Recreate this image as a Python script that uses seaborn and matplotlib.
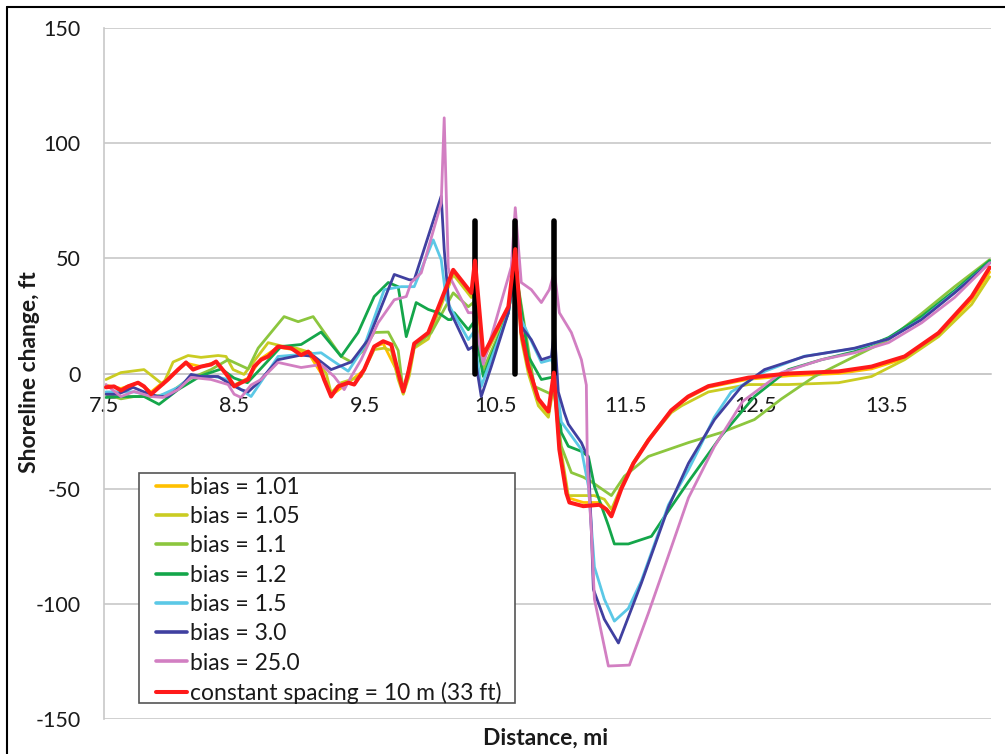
import numpy as np
import pandas as pd
import seaborn as sns
import matplotlib.pyplot as plt
from matplotlib.lines import Line2D
from matplotlib.patches import Rectangle

sns.set_theme(style="white")
plt.rcParams['font.family'] = ['Lato', 'DejaVu Sans']

# ---------------- data (distance in mi, shoreline change in ft) ----------------
dist_101 = [7.515, 7.63, 7.761, 7.861, 7.991, 8.129, 8.244, 8.36, 8.498, 8.605, 8.705, 8.835, 8.935, 9.066, 9.188,
            9.242, 9.373, 9.495, 9.572, 9.641, 9.756, 9.795, 9.879, 9.987, 10.186, 10.317, 10.345, 10.409, 10.601,
            10.654, 10.7, 10.831, 10.908, 10.95, 10.992, 11.061, 11.176, 11.299, 11.391, 11.468, 11.56, 11.675,
            11.85, 11.98, 12.135, 12.442, 12.749, 13.133, 13.386, 13.64, 13.9, 14.154, 14.292]
chg_101 = [-5, -6.5, -4, -8, -2, 4.5, 3, 5, -5, -2, 6.5, 11.5, 10.5, 9, -2, -9.5, -4, 1.5, 11.5, 13, 0, -8.5, 12, 17,
           44, 34, 47, 7, 28.5, 52, 17, -12, -17.5, -1, -32, -54, -56, -56, -61, -49, -38.5, -28.5, -16, -10.5, -6,
           -2.5, -1, 0, 2, 6.5, 16.5, 32, 44]

dist_105 = [7.515, 7.63, 7.807, 7.953, 8.03, 8.145, 8.244, 8.375, 8.436, 8.49, 8.574, 8.759, 8.858, 8.973, 9.089,
            9.204, 9.242, 9.319, 9.472, 9.572, 9.649, 9.703, 9.756, 9.795, 9.841, 9.879, 9.987, 10.178, 10.317,
            10.345, 10.409, 10.601, 10.654, 10.7, 10.754, 10.831, 10.908, 10.95, 10.984, 11.061, 11.161, 11.261,
            11.337, 11.391, 11.468, 11.56, 11.675, 11.85, 11.93, 12.135, 12.442, 12.749, 13.133, 13.386, 13.64,
            13.9, 14.154, 14.292]
chg_105 = [-2.6, 0.4, 1.7, -4.8, 5, 7.8, 7, 7.8, 7.4, 1.7, -0.4, 13.4, 12, 11, 9, 0, -8.4, -4, -1.3, 10.4, 11, 10,
           -2.6, -9, -1, 11, 15, 43, 33, 40, 6, 28, 50, 15, 0, -14, -19, -5, -26, -53, -53, -53, -54.6, -59, -49,
           -39, -29, -17, -14, -8, -4.8, -4.8, -4, -1.3, 6, 16, 30, 42]

dist_110 = [7.515, 7.63, 7.73, 7.861, 7.991, 8.145, 8.321, 8.452, 8.605, 8.682, 8.881, 8.989, 9.104, 9.319, 9.396,
            9.495, 9.572, 9.68, 9.756, 9.795, 9.879, 10.01, 10.178, 10.294, 10.332, 10.409, 10.601, 10.654, 10.8,
            10.931, 10.954, 11.007, 11.084, 11.176, 11.238, 11.391, 11.491, 11.675, 11.982, 12.235, 12.488, 12.696,
            12.949, 13.256, 13.517, 13.77, 14.023, 14.292]
chg_110 = [-9, -11, -10, -10, -9, -2.6, 1.7, 6, 2, 11, 24.7, 22.5, 24.7, 7.4, 5, 10.4, 17.8, 18, 10, -8, 11.7, 17.7,
           35, 29, 30.8, 1.7, 26.4, 46, -5.6, -9, -9, -31.6, -43, -45, -47, -53, -44.6, -36, -30, -25.6, -20, -11,
           -1.3, 7.4, 14.7, 26, 37.7, 49.4]

dist_120 = [7.515, 7.63, 7.807, 7.922, 8.068, 8.244, 8.4, 8.498, 8.6, 8.7, 8.858, 9.012, 9.165, 9.319, 9.449,
            9.572, 9.68, 9.756, 9.818, 9.894, 9.987, 10.063, 10.14, 10.163, 10.186, 10.294, 10.332, 10.409, 10.601,
            10.654, 10.754, 10.854, 10.931, 10.954, 11.007, 11.061, 11.161, 11.215, 11.261, 11.368, 11.414, 11.521,
            11.698, 11.8, 11.982, 12.235, 12.488, 12.749, 13.003, 13.256, 13.517, 13.77, 14.023, 14.292]
chg_120 = [-10.4, -10, -10, -13.4, -7, -1, 2, -2, -4, 2, 11.7, 12.6, 18, 7.4, 17.8, 33.4, 39.5, 37.7, 16, 30.8, 27.8,
           26.4, 23.4, 23.4, 26.4, 19, 22, -1.3, 26.4, 46, 7.4, -2.6, -1.7, 0, -25.6, -31.6, -33.8, -36, -49, -66,
           -74, -74, -70.7, -62, -47, -27, -10, 1.7, 6, 9.5, 15.6, 24.7, 36, 49]

dist_150 = [7.515, 7.73, 7.914, 8.068, 8.168, 8.344, 8.452, 8.551, 8.628, 8.835, 9.165, 9.242, 9.373, 9.495, 9.649,
            9.779, 9.879, 10.025, 10.086, 10.125, 10.163, 10.294, 10.332, 10.393, 10.601, 10.654, 10.7, 10.854,
            10.931, 10.954, 11.007, 11.084, 11.161, 11.215, 11.261, 11.337, 11.414, 11.521, 11.621, 11.829, 11.98,
            12.06, 12.18, 12.31, 12.57, 12.87, 13.256, 13.517, 13.77, 14.023, 14.292]
chg_150 = [-8, -8, -10, -6, -1.3, -1.3, -2.6, -7, -10, 7.4, 9, 6, 1, 11.7, 36.4, 37.7, 37.7, 58, 49.4, 32, 27.8, 14.7,
           17.8, -5.6, 26.4, 46, 23.4, 4.8, 6, 3, -21, -27, -33, -49, -84, -98, -107.5, -102, -90, -57, -42, -33,
           -19, -8, 1, 7.5, 10.8, 15, 23.6, 35.2, 48]

dist_300 = [7.515, 7.607, 7.723, 7.807, 7.914, 7.991, 8.091, 8.168, 8.244, 8.375, 8.475, 8.551, 8.605, 8.682, 8.835,
            9.012, 9.112, 9.242, 9.396, 9.526, 9.726, 9.841, 9.879, 10.086, 10.109, 10.148, 10.294, 10.332, 10.393,
            10.47, 10.601, 10.647, 10.7, 10.777, 10.854, 10.931, 10.954, 10.984, 11.03, 11.061, 11.161, 11.215,
            11.238, 11.253, 11.337, 11.445, 11.621, 11.829, 11.982, 12.182, 12.39, 12.565, 12.872, 13.256, 13.517,
            13.77, 14.023, 14.292]
chg_300 = [-9, -9, -6, -8, -10, -10, -5.6, -0.4, -1.3, -1.3, -4.8, -7, -8, -4, 6, 8, 7.4, 1.7, 5, 14.7, 43, 40.7,
           40.7, 77, 53.8, 27.8, 10.4, 11.7, -10, 3, 26.4, 43.8, 20.4, 14.7, 6, 7.4, 19, -8, -17, -22, -30, -37,
           -69, -93.7, -106.7, -117, -91, -58, -39, -20, -5.6, 1.7, 7.4, 11, 15, 23.4, 35, 48]

dist_250 = [7.515, 7.63, 7.73, 7.861, 7.953, 8.068, 8.168, 8.321, 8.452, 8.498, 8.551, 8.628, 8.705, 8.835, 9.012,
            9.165, 9.265, 9.342, 9.396, 9.472, 9.602, 9.726, 9.818, 9.856, 9.933, 10.086, 10.109, 10.14, 10.163,
            10.294, 10.332, 10.409, 10.624, 10.654, 10.7, 10.777, 10.854, 10.915, 10.954, 10.992, 11.084, 11.161,
            11.199, 11.207, 11.238, 11.261, 11.368, 11.529, 11.675, 11.829, 11.982, 12.182, 12.4, 12.696, 13.003,
            13.256, 13.517, 13.77, 14.023, 14.292]
chg_250 = [-4.8, -10, -7.8, -10, -10.4, -7, -1.7, -2.6, -4.8, -9, -10.4, -5, -2.6, 4.8, 2.6, 3.9, -1.3, -7, -1.3, 6,
           22, 32, 33.4, 39.5, 43.7, 74, 111, 46, 40.7, 26.4, 26.4, 4, 46.4, 72, 39.5, 36.4, 30.8, 36.4, 44, 26.4,
           17.8, 6, -5, -40, -69, -98, -127, -126.6, -104, -79, -54, -31.6, -12, 0.4, 6, 9, 13.4, 22, 33, 48]

dist_const = [7.515, 7.577, 7.63, 7.684, 7.761, 7.807, 7.861, 7.922, 7.991, 8.068, 8.129, 8.183, 8.244, 8.321, 8.36,
              8.452, 8.498, 8.551, 8.605, 8.651, 8.705, 8.759, 8.835, 8.935, 9.012, 9.066, 9.142, 9.188, 9.242, 9.296,
              9.373, 9.419, 9.495, 9.572, 9.641, 9.703, 9.756, 9.795, 9.833, 9.879, 9.987, 10.178, 10.317, 10.345,
              10.409, 10.601, 10.654, 10.7, 10.754, 10.831, 10.908, 10.95, 10.992, 11.046, 11.069, 11.176, 11.299,
              11.353, 11.391, 11.468, 11.56, 11.675, 11.85, 11.98, 12.135, 12.442, 12.749, 13.133, 13.386, 13.64,
              13.9, 14.154, 14.292]
chg_const = [-6, -5.6, -7.4, -5.6, -4, -5.6, -9, -6, -2.6, 1.7, 4.8, 1.7, 3, 3.9, 5.2, -1.3, -5.6, -4, -2.6, 3, 6, 7.4,
             11.7, 11, 8, 9.5, 4.8, -2.6, -10, -5.6, -4, -4.8, 1.7, 11.7, 14, 12.6, 0.4, -7.8, 0.4, 13, 17.7, 45, 35,
             49, 8, 29, 54, 18, 3, -11, -16.5, 0.4, -33, -52, -56, -57.6, -57, -59, -62, -50, -39, -29, -16, -10,
             -5.5, -1.8, 0, 0.9, 3, 7.4, 17.6, 33.4, 46]

groin_x = [10.345, 10.655, 10.95]
groin_bottom = 0
groin_top = 66

labels = ['bias = 1.01', 'bias = 1.05', 'bias = 1.1', 'bias = 1.2', 'bias = 1.5', 'bias = 3.0', 'bias = 25.0',
          'constant spacing = 10 m (33 ft)']
colors = ['#FFC000', '#CACC22', '#8CC63E', '#14A64A', '#5BC8E6', '#4040A0', '#D27FC2', '#FF1A1A']
xticks = [7.5, 8.5, 9.5, 10.5, 11.5, 12.5, 13.5]
yticks = [-150, -100, -50, 0, 50, 100, 150]

series = [(dist_101, chg_101), (dist_105, chg_105), (dist_110, chg_110), (dist_120, chg_120),
          (dist_150, chg_150), (dist_300, chg_300), (dist_250, chg_250), (dist_const, chg_const)]

# ---------------- figure ----------------
W, H = 1005, 754
fig = plt.figure(figsize=(W / 100, H / 100), dpi=100)
ax = fig.add_axes([104 / W, 1 - 719 / H, (990.7 - 104) / W, (719 - 28) / H])

grid_c = '#c8c8c8'
for i, ((xs, ys), lab, col) in enumerate(zip(series, labels, colors)):
    is_const = (i == len(series) - 1)
    df = pd.DataFrame({'Distance': xs, 'Change': ys})
    sns.lineplot(data=df, x='Distance', y='Change', ax=ax, color=col,
                 linewidth=2.9 if is_const else 2.0, sort=False, estimator=None,
                 zorder=4 if is_const else 2 + i * 0.01, legend=False)

ax.vlines(groin_x, groin_bottom, groin_top, colors='black', linewidth=4.0, zorder=3, capstyle='round')

ax.set_xlim(7.5, 14.3)
ax.set_ylim(-150, 150)
ax.set_xticks(xticks)
ax.set_xticklabels([f'{t:.1f}' for t in xticks])
ax.set_yticks(yticks)
ax.set_yticklabels([str(t) for t in yticks])
ax.yaxis.grid(True, color=grid_c, linewidth=1.2)
ax.xaxis.grid(False)
ax.set_axisbelow(True)

for s in ['top', 'right']:
    ax.spines[s].set_visible(False)
ax.spines['bottom'].set_position(('data', 0))
ax.spines['bottom'].set_color(grid_c)
ax.spines['bottom'].set_linewidth(1.2)
ax.spines['bottom'].set_zorder(0.5)
ax.spines['left'].set_color(grid_c)
ax.spines['left'].set_linewidth(1.2)
ax.tick_params(axis='x', length=0, pad=16, labelsize=15.5, colors='#1a1a1a')
ax.tick_params(axis='y', length=0, pad=17, labelsize=15.5, colors='#1a1a1a')
ax.set_xlabel('')
ax.set_ylabel('')

fig.text(30 / W, 1 - 372 / H, 'Shoreline change, ft', rotation=90, ha='center', va='center',
         fontsize=16.5, fontweight='bold', color='#1a1a1a')
fig.text(546 / W, 1 - 738 / H, 'Distance, mi', ha='center', va='center',
         fontsize=16.5, fontweight='bold', color='#1a1a1a')

# legend box
fig.add_artist(Rectangle((139 / W, 1 - 703 / H), (515 - 139) / W, (703 - 473) / H, transform=fig.transFigure,
                         facecolor='white', edgecolor='#555555', linewidth=1.2, zorder=4))
handles = [Line2D([], [], color=c, linewidth=(2.9 if k == len(colors) - 1 else 2.6)) for k, c in enumerate(colors)]
leg = fig.legend(handles, labels, loc='upper left', bbox_to_anchor=(156 / W, 1 - 477 / H),
                 bbox_transform=fig.transFigure, frameon=False, borderpad=0, borderaxespad=0,
                 handlelength=1.35, handletextpad=0.13, labelspacing=0.36, fontsize=16.5)
leg.set_zorder(6)
for t in leg.get_texts():
    t.set_color('#1a1a1a')

# outer frame
fig.add_artist(Line2D([7 / W, 7 / W], [0, 1 - 7 / H], transform=fig.transFigure, color='black', linewidth=1.5))
fig.add_artist(Line2D([7 / W, 1], [1 - 7 / H, 1 - 7 / H], transform=fig.transFigure, color='black', linewidth=1.5))

fig.savefig('out.png', dpi=100, facecolor='white')
